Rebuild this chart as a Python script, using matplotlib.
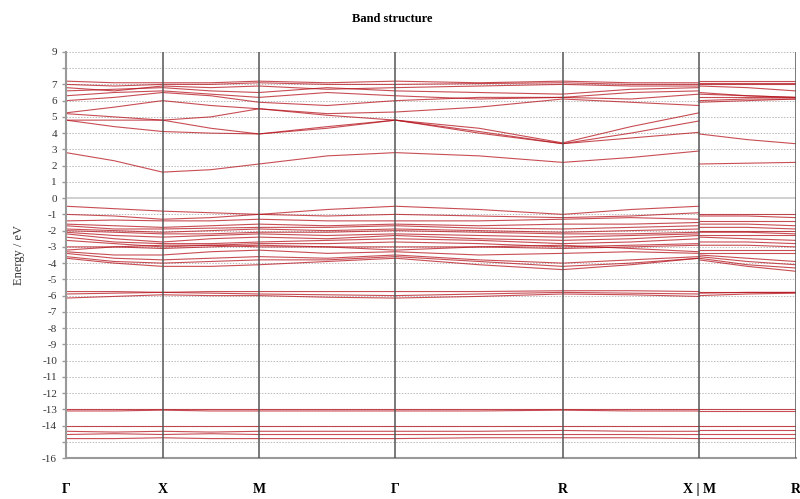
import numpy as np
import matplotlib
matplotlib.use("Agg")
import matplotlib.pyplot as plt

plt.rcParams['font.family'] = ['Liberation Serif', 'DejaVu Serif']

# high-symmetry path: G-X-M-G-R-X | M-R (simple cubic distances)
labels = ['Γ', 'X', 'M', 'Γ', 'R', 'X | M', 'R']
seg_len = [0.5, 0.5, 0.7071, 0.866, 0.7071, 0.5]

# energies (eV) read at: G, G-X mid, X, X-M mid, M, M-G mid, G, G-R mid, R, R-X mid, X | M, M-R mid, R
conduction = [
    [2.8, 2.3, 1.6, 1.75, 2.1, 2.6, 2.8, 2.6, 2.2, 2.5, 2.9, 2.1, 2.15, 2.2],
    [4.8, 4.4, 4.1, 4.0, 3.95, 4.3, 4.8, 4.0, 3.35, 3.7, 4.05, 3.95, 3.6, 3.35],
    [4.8, 4.8, 4.8, 4.3, 3.95, 4.4, 4.8, 4.1, 3.35, 4.0, 4.75, 5.9, 6.0, 6.1],
    [5.2, 5.0, 4.8, 5.0, 5.5, 5.1, 4.8, 4.3, 3.4, 4.4, 5.25, 6.0, 6.1, 6.1],
    [5.25, 5.6, 6.0, 5.7, 5.5, 5.2, 5.3, 5.6, 6.1, 5.9, 5.7, 6.2, 6.2, 6.2],
    [6.0, 6.2, 6.5, 6.3, 5.9, 5.7, 6.0, 6.2, 6.2, 6.1, 6.4, 6.4, 6.3, 6.2],
    [6.3, 6.5, 6.6, 6.4, 6.2, 6.5, 6.3, 6.1, 6.2, 6.5, 6.6, 6.5, 6.3, 6.2],
    [6.6, 6.7, 6.8, 6.6, 6.5, 6.8, 6.6, 6.5, 6.4, 6.7, 6.8, 6.9, 6.8, 6.6],
    [6.8, 6.6, 6.9, 6.8, 6.9, 6.7, 6.8, 6.9, 7.0, 6.9, 6.9, 7.0, 7.0, 7.0],
    [7.0, 6.9, 7.0, 7.0, 7.1, 7.0, 7.0, 7.05, 7.1, 7.0, 7.0, 7.1, 7.1, 7.1],
    [7.2, 7.1, 7.1, 7.1, 7.2, 7.1, 7.2, 7.1, 7.2, 7.1, 7.1, 7.2, 7.2, 7.2],
]

valence = [
    [-0.5, -0.65, -0.8, -0.9, -1.0, -0.7, -0.5, -0.7, -1.0, -0.7, -0.5, -1.0, -1.0, -1.0],
    [-1.0, -1.1, -1.3, -1.2, -1.0, -1.1, -1.0, -1.1, -1.2, -1.1, -0.9, -1.1, -1.1, -1.2],
    [-1.4, -1.35, -1.4, -1.4, -1.3, -1.4, -1.4, -1.4, -1.3, -1.2, -1.3, -1.4, -1.4, -1.4],
    [-1.6, -1.7, -1.8, -1.7, -1.6, -1.7, -1.6, -1.7, -1.6, -1.6, -1.5, -1.6, -1.6, -1.7],
    [-1.7, -1.9, -1.9, -1.85, -1.8, -1.8, -1.7, -1.85, -1.9, -1.8, -1.7, -1.8, -1.8, -1.9],
    [-1.9, -2.0, -2.1, -2.0, -1.9, -2.0, -1.9, -2.0, -2.1, -2.0, -1.9, -2.0, -2.0, -2.0],
    [-2.0, -2.1, -2.2, -2.2, -2.1, -2.1, -2.0, -2.1, -2.2, -2.2, -2.1, -2.1, -2.1, -2.2],
    [-2.1, -2.3, -2.4, -2.3, -2.2, -2.3, -2.2, -2.3, -2.4, -2.3, -2.2, -2.3, -2.3, -2.3],
    [-2.2, -2.5, -2.7, -2.5, -2.4, -2.5, -2.3, -2.5, -2.6, -2.5, -2.3, -2.4, -2.5, -2.6],
    [-2.4, -2.7, -2.8, -2.8, -2.7, -2.6, -2.5, -2.6, -2.8, -2.7, -2.5, -2.7, -2.7, -2.8],
    [-2.6, -2.8, -3.0, -2.9, -2.8, -2.8, -2.7, -2.8, -3.0, -2.9, -2.8, -2.9, -2.9, -3.0],
    [-3.0, -3.0, -3.1, -3.0, -2.9, -3.0, -3.0, -3.0, -3.1, -3.0, -2.9, -3.2, -3.2, -3.2],
    [-3.2, -3.0, -2.9, -2.9, -3.0, -3.0, -3.2, -3.0, -2.9, -3.1, -3.3, -3.4, -3.4, -3.4],
    [-3.3, -3.5, -3.5, -3.3, -3.2, -3.4, -3.3, -3.5, -3.4, -3.3, -3.4, -3.5, -3.7, -3.9],
    [-3.4, -3.7, -3.8, -3.7, -3.6, -3.7, -3.5, -3.8, -4.0, -3.8, -3.6, -3.6, -3.9, -4.1],
    [-3.6, -3.9, -4.0, -3.9, -3.8, -3.8, -3.6, -3.9, -4.2, -4.0, -3.7, -3.7, -4.1, -4.3],
    [-3.7, -4.0, -4.2, -4.2, -4.1, -3.9, -3.7, -4.1, -4.4, -4.1, -3.7, -3.8, -4.2, -4.5],
]

semicore = [
    [-5.75, -5.75, -5.8, -5.75, -5.75, -5.75, -5.75, -5.75, -5.7, -5.7, -5.75, -5.75, -5.75, -5.75],
    [-5.9, -5.85, -5.8, -5.85, -5.9, -5.95, -6.0, -5.9, -5.8, -5.85, -5.9, -5.85, -5.8, -5.8],
    [-6.15, -6.05, -5.95, -6.0, -6.0, -6.1, -6.15, -6.05, -5.9, -5.95, -6.05, -6.0, -5.9, -5.85],
]

deep = [
    [-13.0, -13.0, -13.0, -13.0, -13.0, -13.0, -13.0, -13.0, -13.0, -13.0, -13.0, -13.0, -13.0, -13.0],
    [-13.1, -13.1, -13.05, -13.1, -13.1, -13.1, -13.1, -13.1, -13.05, -13.1, -13.1, -13.1, -13.1, -13.1],
    [-14.0, -14.0, -14.0, -14.0, -14.0, -14.0, -14.0, -14.0, -14.0, -14.0, -14.0, -14.0, -14.0, -14.0],
    [-14.35, -14.4, -14.35, -14.4, -14.35, -14.35, -14.35, -14.35, -14.3, -14.35, -14.35, -14.3, -14.3, -14.3],
    [-14.55, -14.5, -14.55, -14.5, -14.55, -14.55, -14.55, -14.55, -14.55, -14.55, -14.55, -14.5, -14.5, -14.5],
    [-14.8, -14.8, -14.75, -14.8, -14.8, -14.8, -14.8, -14.75, -14.75, -14.75, -14.8, -14.75, -14.75, -14.75],
]

ticks = np.concatenate([[0], np.cumsum(seg_len)])
mids = (ticks[:-1] + ticks[1:]) / 2
k1 = np.sort(np.concatenate([ticks[:6], mids[:5]]))
k2 = np.array([ticks[5], mids[5], ticks[6]])

fig = plt.figure(figsize=(8, 4.99), dpi=100)
ax = fig.add_axes([0.0825, 0.082, 0.912, 0.814])

for y in range(-16, 10):
    if y == 0:
        ax.axhline(y, color='#c8c8c8', lw=1.2, zorder=1)
    else:
        ax.axhline(y, color='#bbbbbb', lw=0.7, ls=(0, (1.5, 1.5)), zorder=1)

for t in ticks[1:]:
    ax.axvline(t, color='#555555', lw=1.1, zorder=3)

red = '#b5121b'
for band in conduction + valence + semicore + deep:
    ax.plot(k1, band[:11], color=red, lw=0.8, alpha=0.75, zorder=2)
    ax.plot(k2, band[11:], color=red, lw=0.8, alpha=0.75, zorder=2)

ax.set_xlim(ticks[0], ticks[-1])
ax.set_ylim(-16, 9)
ax.set_yticks(range(-16, 10))
ax.set_yticklabels(['' if v in (8, -15) else str(v) for v in range(-16, 10)], fontsize=8, color='#333333')
ax.set_xticks(ticks)
ax.set_xticklabels(labels, fontsize=10, fontweight='bold')
ax.tick_params(axis='x', length=0, pad=18)
ax.tick_params(axis='y', length=3, color='#999999', width=1)

for side in ['top', 'right']:
    ax.spines[side].set_visible(False)
for side in ['left', 'bottom']:
    ax.spines[side].set_color('#999999')
    ax.spines[side].set_linewidth(1.5)

ax.set_ylabel('Energy / eV', fontsize=9, color='#333333', labelpad=12)
fig.text(0.49, 0.962, 'Band structure', ha='center', va='center', fontsize=9, fontweight='bold')

fig.savefig('out.png', dpi=100)
